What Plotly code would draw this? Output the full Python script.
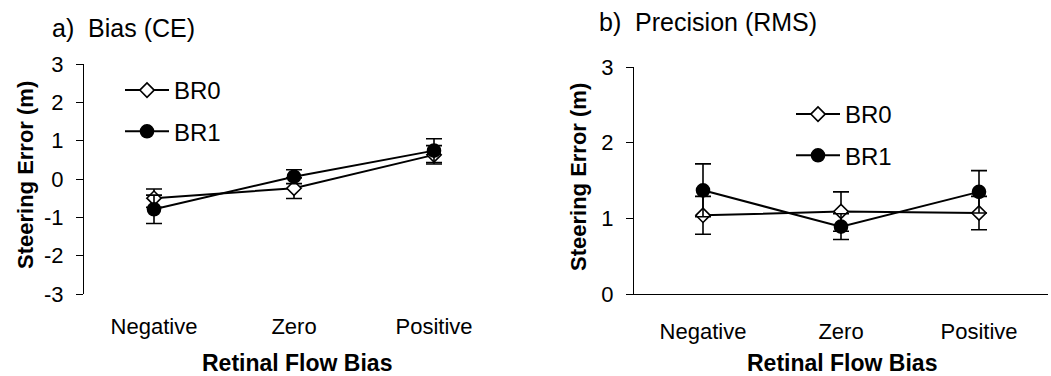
import plotly.graph_objects as go

categories = ["Negative", "Zero", "Positive"]
x_pos = [0, 1, 2]

# a) Bias (CE)
bias_br0 = [-0.50, -0.24, 0.63]
bias_br0_err = [0.24, 0.27, 0.24]
bias_br1 = [-0.79, 0.06, 0.74]
bias_br1_err = [0.37, 0.18, 0.31]

# b) Precision (RMS)
rms_br0 = [1.04, 1.09, 1.07]
rms_br0_err = [0.25, 0.26, 0.22]
rms_br1 = [1.37, 0.89, 1.35]
rms_br1_err = [0.35, 0.17, 0.28]

left_yticks = [-3, -2, -1, 0, 1, 2, 3]
left_yticktext = ["-3", "-2", "-1", "0", "1", "2", "3"]
right_yticks = [0, 1, 2, 3]
right_yticktext = ["0", "1", "2", "3"]

FONT = "Arial, Liberation Sans, sans-serif"
W, H = 1051, 376

def px(x):
    return x / W

def py(y):
    return 1 - y / H

fig = go.Figure()

def add_series(xa, ya, yvals, errs, name, symbol, fill, size, legend):
    fig.add_trace(go.Scatter(
        x=x_pos, y=yvals, xaxis=xa, yaxis=ya, name=name,
        mode="lines+markers",
        line=dict(color="black", width=2),
        marker=dict(symbol=symbol, size=size, color=fill,
                    line=dict(color="black", width=1.6)),
        error_y=dict(type="data", array=errs, visible=True,
                     color="black", thickness=1.6, width=8),
        legend=legend, legendgroup=name + legend,
    ))

add_series("x", "y", bias_br0, bias_br0_err, "BR0", "diamond", "white", 11, "legend")
add_series("x", "y", bias_br1, bias_br1_err, "BR1", "circle", "black", 13, "legend")
add_series("x2", "y2", rms_br0, rms_br0_err, "BR0", "diamond", "white", 11, "legend2")
add_series("x2", "y2", rms_br1, rms_br1_err, "BR1", "circle", "black", 13, "legend2")

left_dom = [px(84), px(504)]
right_dom = [px(634), px(1048)]
ydom_left = [py(294), py(64)]
ydom_right = [py(294), py(67)]

tickfont = dict(family=FONT, size=22, color="black")

xa_common = dict(range=[-0.5, 2.5], tickvals=x_pos, ticktext=categories,
                 showgrid=False, zeroline=False, ticks="", tickfont=tickfont,
                 ticklabelstandoff=17, fixedrange=True, automargin=False)

ya_common = dict(showline=True, linecolor="black", linewidth=1.2,
                 ticks="outside", ticklen=7, tickwidth=1.2, tickcolor="black",
                 showgrid=False, zeroline=False, tickfont=tickfont,
                 ticklabelstandoff=8, automargin=False, fixedrange=True)

legfont = dict(family=FONT, size=24, color="black")

fig.update_layout(
    width=W, height=H,
    margin=dict(l=0, r=0, t=0, b=0, autoexpand=False),
    paper_bgcolor="white", plot_bgcolor="white",
    font=dict(family=FONT, color="black"),
    xaxis=dict(domain=left_dom, anchor="y", showline=False, **xa_common),
    yaxis=dict(domain=ydom_left, anchor="x", range=[-3, 3], tickvals=left_yticks,
               ticktext=left_yticktext, **ya_common),
    xaxis2=dict(domain=right_dom, anchor="y2", showline=True, linecolor="black",
                linewidth=1.2, **xa_common),
    yaxis2=dict(domain=ydom_right, anchor="x2", range=[0, 3], tickvals=right_yticks,
                ticktext=right_yticktext, **ya_common),
    # zero line with boundary ticks for panel a
    xaxis3=dict(domain=left_dom, overlaying="x", anchor="free", position=py(179),
                range=[-0.5, 2.5], tickvals=[0.5, 1.5], showticklabels=False,
                showline=True, linecolor="black", linewidth=1.2,
                ticks="outside", ticklen=8, tickwidth=1.2, tickcolor="black",
                showgrid=False, zeroline=False, fixedrange=True, automargin=False),
    # boundary ticks for panel b
    xaxis4=dict(domain=right_dom, overlaying="x2", anchor="y2",
                range=[-0.5, 2.5], tickvals=[-0.5, 0.5, 1.5], showticklabels=False,
                showline=False, ticks="outside", ticklen=9, tickwidth=1.2,
                tickcolor="black", showgrid=False, zeroline=False, fixedrange=True,
                automargin=False),
    legend=dict(x=px(120), y=py(68), xanchor="left", yanchor="top", font=legfont,
                bgcolor="rgba(0,0,0,0)", tracegroupgap=7, itemwidth=44),
    legend2=dict(x=px(791), y=py(92), xanchor="left", yanchor="top", font=legfont,
                 bgcolor="rgba(0,0,0,0)", tracegroupgap=7, itemwidth=44),
    showlegend=True,
)

annots = [
    dict(text="a)\u00a0 Bias (CE)", x=px(50), y=py(28), xanchor="left", yanchor="middle",
         font=dict(size=25)),
    dict(text="b)\u00a0 Precision (RMS)", x=px(597), y=py(22), xanchor="left", yanchor="middle",
         font=dict(size=25)),
    dict(text="<b>Steering Error (m)</b>", x=px(25), y=py(175), textangle=-90,
         xanchor="center", yanchor="middle", font=dict(size=22)),
    dict(text="<b>Steering Error (m)</b>", x=px(578), y=py(177), textangle=-90,
         xanchor="center", yanchor="middle", font=dict(size=22)),
    dict(text="<b>Retinal Flow Bias</b>", x=px(297), y=py(363),
         xanchor="center", yanchor="middle", font=dict(size=23)),
    dict(text="<b>Retinal Flow Bias</b>", x=px(842), y=py(363),
         xanchor="center", yanchor="middle", font=dict(size=23)),
]
for a in annots:
    a.update(xref="paper", yref="paper", showarrow=False)
    a["font"].update(family=FONT, color="black")
fig.update_layout(annotations=annots)

fig.write_html(
    "out.html",
    config={"displayModeBar": False},
    post_script="document.body.style.margin='0';document.body.style.overflow='hidden';",
)
